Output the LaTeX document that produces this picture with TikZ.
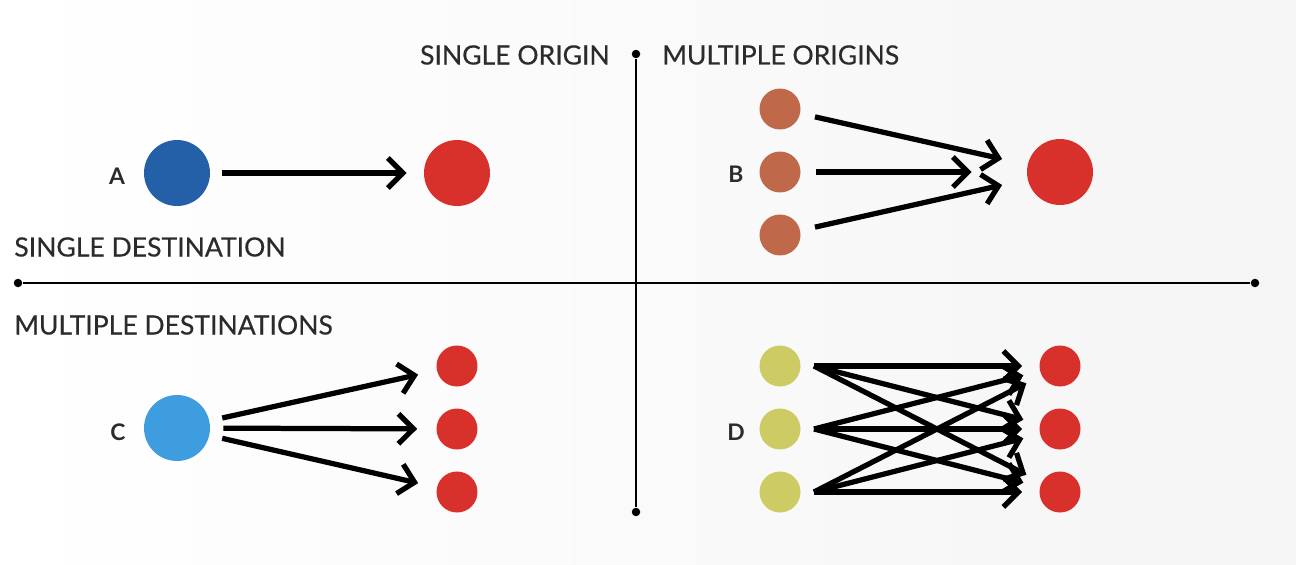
\documentclass[tikz,border=0pt]{standalone}
\usepackage{fontspec}
\setmainfont{Lato}
\newfontfamily\labelfont[FakeBold=0.4]{Lato}
\usetikzlibrary{arrows.meta}
\definecolor{darkblue}{HTML}{2460A7}
\definecolor{lightblue}{HTML}{3E9DDE}
\definecolor{dotred}{HTML}{D8302B}
\definecolor{brown}{HTML}{C0694A}
\definecolor{olive}{HTML}{CDCB64}
\definecolor{txt}{HTML}{2B2B2B}
\tikzset{
  bigdot/.style={circle, fill=#1, draw=none, minimum size=1.32cm, inner sep=0pt},
  smalldot/.style={circle, fill=#1, draw=none, minimum size=0.82cm, inner sep=0pt},
  axislabel/.style={inner sep=0pt, text=txt, font=\labelfont\fontsize{15.1}{16}\selectfont},
  letter/.style={inner sep=0pt, text=txt, font=\bfseries\fontsize{13}{14}\selectfont},
  flow/.style={line width=0.105cm, -{Straight Barb[length=0.3cm, width=0.6cm, line width=0.105cm]}},
  axis/.style={line width=0.045cm, black},
  axisend/.style={circle, fill=black, minimum size=0.17cm, inner sep=0pt},
}
\begin{document}
\begin{tikzpicture}[x=0.02cm, y=-0.02cm]
\useasboundingbox (0,0) rectangle (1296,565);
\fill[left color=white, right color=black!4] (0,0) rectangle (1296,565);
% axes
\node[axisend] (vt) at (636,54) {};
\node[axisend] (vb) at (636,512) {};
\node[axisend] (hl) at (18,283) {};
\node[axisend] (hr) at (1255,283) {};
\draw[axis] (vt) -- (vb);
\draw[axis] (hl) -- (hr);
% axis labels
\node[axislabel, anchor=east] (so) at (610,55) {SINGLE ORIGIN};
\node[axislabel, anchor=west] (mo) at (662,55) {MULTIPLE ORIGINS};
\node[axislabel, anchor=west] (sd) at (14,247) {SINGLE DESTINATION};
\node[axislabel, anchor=west] (md) at (14,325) {MULTIPLE DESTINATIONS};
% A
\node[letter] (la) at (117,176) {A};
\node[bigdot=darkblue] (a) at (177,173) {};
\node[bigdot=dotred] (ad) at (457,173) {};
\draw[flow, shorten <=0.24cm, shorten >=0.34cm] (a) -- (ad);
% B
\node[letter] (lb) at (736,174) {B};
\node[smalldot=brown] (b1) at (780,109) {};
\node[smalldot=brown] (b2) at (780,172) {};
\node[smalldot=brown] (b3) at (780,235) {};
\node[bigdot=dotred] (bd) at (1060,172) {};
\draw[flow, shorten <=0.3cm, shorten >=0.52cm] (b1) -- (bd);
\draw[flow, shorten <=0.3cm, shorten >=1.1cm] (b2) -- (bd);
\draw[flow, shorten <=0.3cm, shorten >=0.52cm] (b3) -- (bd);
% C
\node[letter] (lc) at (118,432) {C};
\node[bigdot=lightblue] (c) at (177,428) {};
\node[smalldot=dotred] (c1) at (457,366) {};
\node[smalldot=dotred] (c2) at (457,429) {};
\node[smalldot=dotred] (c3) at (457,492) {};
\foreach \t in {c1,c2,c3}
  \draw[flow, shorten <=0.26cm, shorten >=0.38cm] (c) -- (\t);
% D
\node[letter] (ld) at (736,432) {D};
\node[smalldot=olive] (d1) at (780,366) {};
\node[smalldot=olive] (d2) at (780,429) {};
\node[smalldot=olive] (d3) at (780,492) {};
\node[smalldot=dotred] (e1) at (1060,366) {};
\node[smalldot=dotred] (e2) at (1060,429) {};
\node[smalldot=dotred] (e3) at (1060,492) {};
\foreach \s in {1,2,3}
  \coordinate (ds\s) at ([xshift=0.68cm]d\s.center);
\foreach \s in {1,2,3}
  \foreach \t in {1,2,3}
    \draw[flow, shorten >=0.34cm] (ds\s) -- (e\t);
\end{tikzpicture}
\end{document}
